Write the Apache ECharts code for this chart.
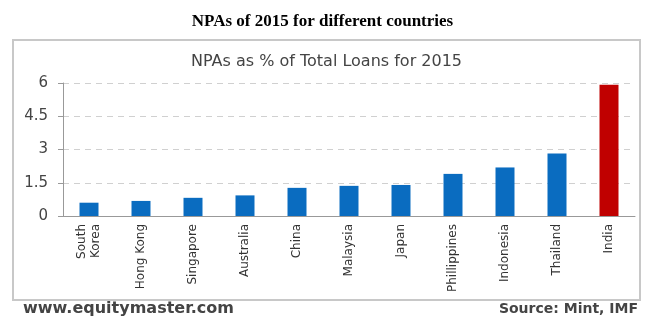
<!DOCTYPE html>
<html>
<head>
<meta charset="utf-8">
<script src="https://cdn.jsdelivr.net/npm/echarts@6/dist/echarts.min.js"></script>
<style>
  html, body { margin: 0; padding: 0; background: #fff; }
  #main { width: 645px; height: 316px; }
</style>
</head>
<body>
<div id="main"></div>
<script>
  // 数据
  var countries = ['South\nKorea', 'Hong Kong', 'Singapore', 'Australia', 'China', 'Malaysia',
    'Japan', 'Phillippines', 'Indonesia', 'Thailand', 'India']
  var npaValues = [0.6, 0.68, 0.82, 0.93, 1.27, 1.36, 1.4, 1.9, 2.19, 2.82, 5.92]
  var yTicks = [0, 1.5, 3, 4.5, 6]

  var myChart = echarts.init(document.getElementById('main'))
  var option = {
    animation: false,
    title: [
      {
        text: 'NPAs of 2015 for different countries',
        left: 'center',
        top: 8,
        textStyle: { fontFamily: 'Liberation Serif', fontWeight: 'bold', fontSize: 17, color: '#000' }
      },
      {
        text: 'NPAs as % of Total Loans for 2015',
        left: 186,
        top: 49,
        textStyle: { fontFamily: 'DejaVu Sans', fontWeight: 'normal', fontSize: 16, color: '#444' }
      }
    ],
    graphic: [
      {
        type: 'rect',
        shape: { x: 13, y: 40, width: 627, height: 260 },
        style: { fill: 'none', stroke: '#c8c8c8', lineWidth: 2 },
        z: -1
      },
      {
        type: 'text',
        left: 23,
        top: 301,
        style: { text: 'www.equitymaster.com', font: 'bold 16px DejaVu Sans', fill: '#444' }
      },
      {
        type: 'text',
        right: 7,
        top: 302,
        style: { text: 'Source: Mint, IMF', font: 'bold 14px DejaVu Sans', fill: '#444' }
      }
    ],
    grid: { left: 63, right: 10, top: 83, bottom: 100 },
    xAxis: {
      type: 'category',
      data: countries,
      axisLine: { lineStyle: { color: '#999' } },
      axisTick: { alignWithLabel: true, length: 3, lineStyle: { color: '#999' } },
      axisLabel: {
        rotate: 90,
        interval: 0,
        fontFamily: 'DejaVu Sans',
        fontSize: 12,
        color: '#333',
        lineHeight: 14,
        margin: 8
      }
    },
    yAxis: {
      type: 'value',
      min: 0,
      max: 6,
      interval: 1.5,
      axisLine: { show: true, lineStyle: { color: '#999' } },
      axisTick: { show: true, length: 5, lineStyle: { color: '#999' } },
      axisLabel: {
        fontFamily: 'DejaVu Sans',
        fontSize: 15,
        color: '#444',
        margin: 15,
        formatter: function (v) {
          return yTicks.indexOf(v) >= 0 ? String(v) : ''
        }
      },
      splitLine: { lineStyle: { type: [6, 5], color: '#d0d0d0' } }
    },
    series: [
      {
        type: 'bar',
        data: npaValues.map(function (v, i) {
          return {
            value: v,
            itemStyle: { color: i === npaValues.length - 1 ? '#c00000' : '#0a6cc0' }
          }
        }),
        barWidth: 19
      }
    ]
  }
  myChart.setOption(option)
</script>
</body>
</html>
